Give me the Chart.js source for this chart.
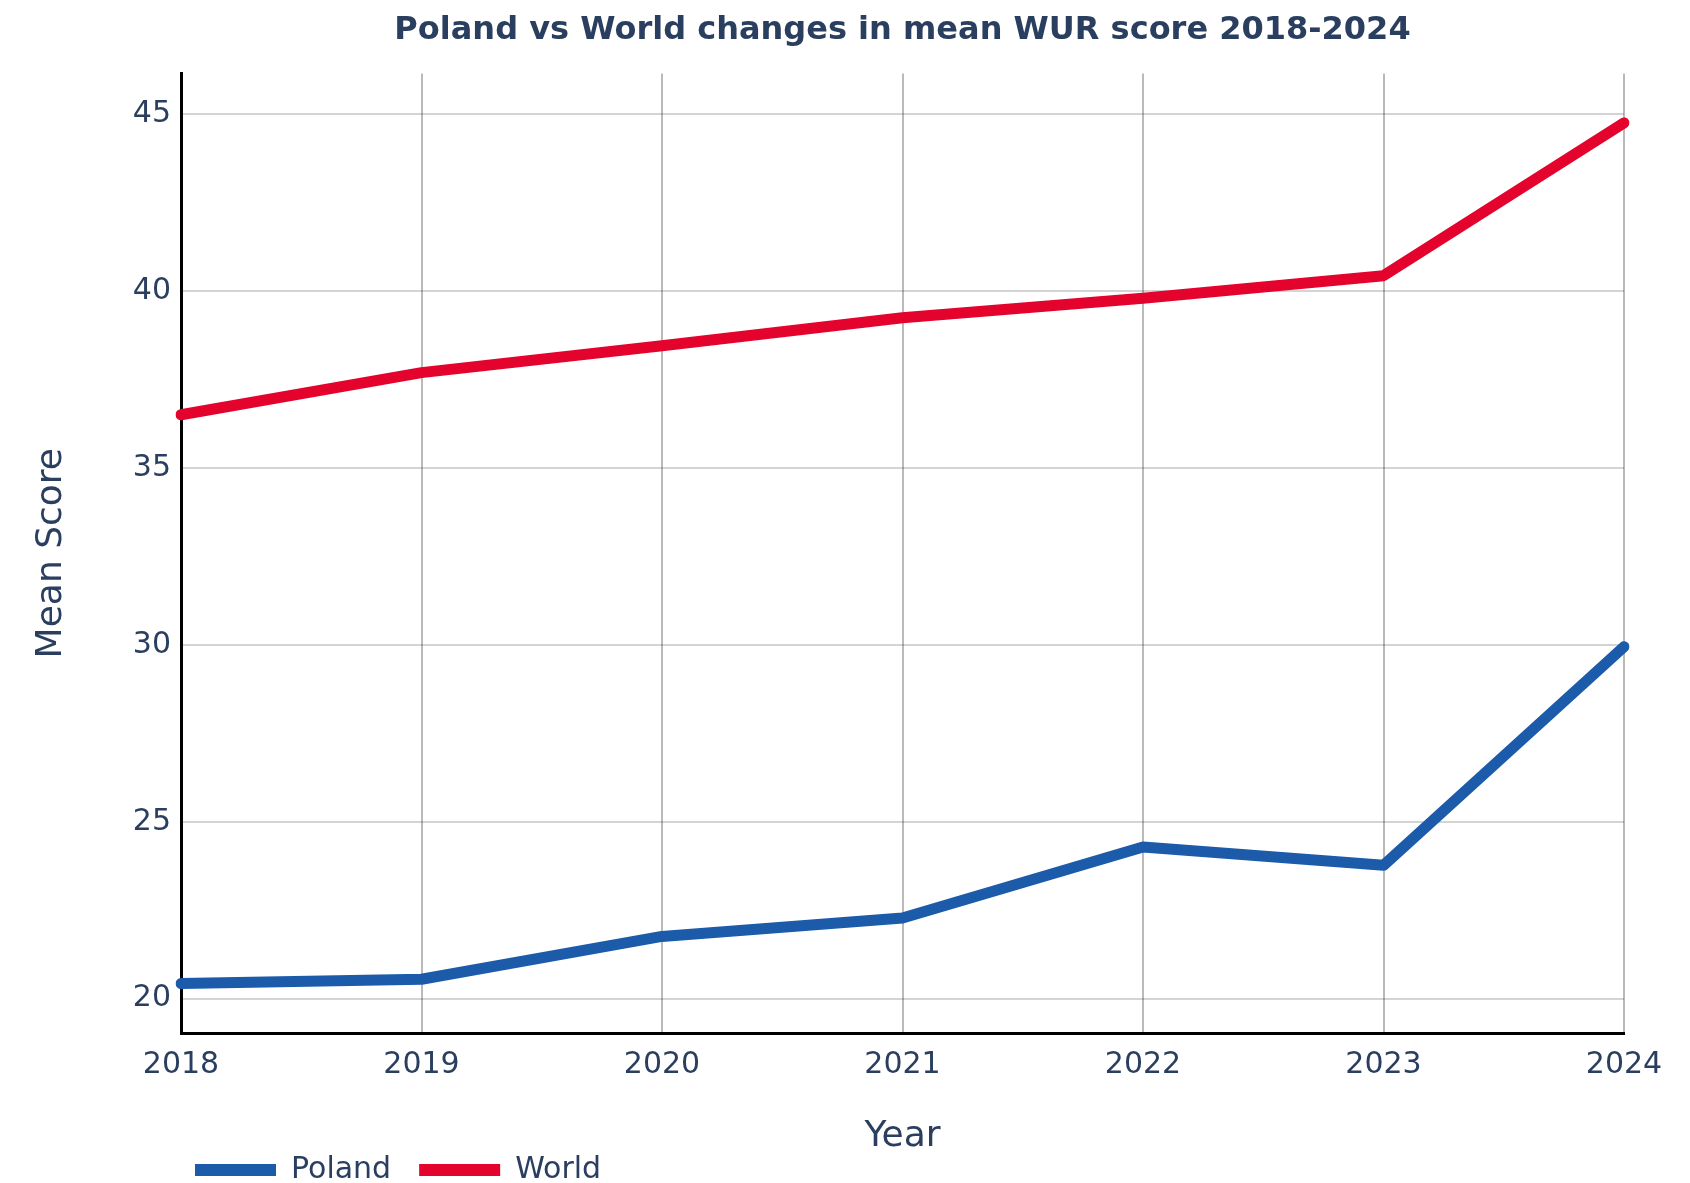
<!DOCTYPE html>
<html>
<head>
<meta charset="utf-8">
<title>Poland vs World WUR</title>
<script src="https://cdn.jsdelivr.net/npm/chart.js@4.4.1/dist/chart.umd.min.js"></script>
<style>
    body { margin: 0; background: #ffffff; }
    canvas { display: block; }
</style>
</head>
<body>
<canvas id="wurChart" width="1690" height="1183"></canvas>
<script>
// data
const years = ['2018', '2019', '2020', '2021', '2022', '2023', '2024'];
const polandScores = [20.43, 20.55, 21.76, 22.28, 24.29, 23.77, 29.95];
const worldScores = [36.51, 37.70, 38.46, 39.25, 39.80, 40.44, 44.76];
const yTicks = [20, 25, 30, 35, 40, 45];

const textColor = '#2a3f5f';
Chart.defaults.font.family = "Verdana, 'DejaVu Sans', sans-serif";
Chart.defaults.color = textColor;

// put the legend and the title where the original has them
const placeBlocks = {
    id: 'placeBlocks',
    afterLayout(chart) {
        const area = chart.chartArea;
        const lg = chart.legend;
        if (lg) {
            lg.left = 167;
            lg.top = 1127;
            lg.bottom = 1183;
        }
        const tb = chart.titleBlock;
        if (tb) {
            tb.left = area.left;
            tb.right = area.right;
        }
    }
};

function loadChart(){
    const ctx = document.getElementById('wurChart');

    const data = {
        labels: years,
        datasets: [{
            label: 'Poland',
            data: polandScores,
            borderColor: '#1b5baa',
            backgroundColor: '#1b5baa',
            borderWidth: 11,
            pointRadius: 0,
            tension: 0,
            borderJoinStyle: 'round',
            borderCapStyle: 'round'
        }, {
            label: 'World',
            data: worldScores,
            borderColor: '#e4032c',
            backgroundColor: '#e4032c',
            borderWidth: 11,
            pointRadius: 0,
            tension: 0,
            borderJoinStyle: 'round',
            borderCapStyle: 'round'
        }]
    };

    const config = {
        type: 'line',
        data: data,
        plugins: [placeBlocks],
        options: {
            responsive: false,
            animation: false,
            devicePixelRatio: 1,
            layout: { padding: { top: 0, right: 66, bottom: 0, left: 0 } },
            plugins: {
                title: {
                    display: true,
                    text: 'Poland vs World changes in mean WUR score 2018-2024',
                    color: textColor,
                    font: { size: 32, weight: 'bold' },
                    padding: { top: 11, bottom: 24 }
                },
                legend: {
                    position: 'bottom',
                    align: 'start',
                    maxHeight: 10,
                    labels: {
                        color: textColor,
                        font: { size: 30 },
                        boxWidth: 81,
                        boxHeight: 12,
                        padding: 28,
                        generateLabels: function(chart){
                            const items = Chart.defaults.plugins.legend.labels.generateLabels(chart);
                            items.forEach(item => {
                                item.lineWidth = 0;
                                item.fillStyle = item.strokeStyle;
                            });
                            return items;
                        }
                    }
                },
                tooltip: { enabled: false }
            },
            scales: {
                x: {
                    type: 'category',
                    offset: false,
                    afterFit: function(scale){ scale.height = 140; },
                    grid: { color: 'rgba(0,0,0,0.27)', lineWidth: 2, drawTicks: false },
                    border: { display: true, color: '#000000', width: 3 },
                    ticks: { font: { size: 30 }, color: textColor, padding: 14, maxRotation: 0, autoSkip: false },
                    title: {
                        display: true,
                        text: 'Year',
                        color: textColor,
                        font: { size: 36 },
                        padding: { top: 0, bottom: 15 }
                    }
                },
                y: {
                    min: 19.03,
                    max: 46.16,
                    afterFit: function(scale){ scale.width = 181; },
                    afterBuildTicks: function(scale){
                        scale.ticks = yTicks.map(v => ({ value: v }));
                    },
                    grid: { color: 'rgba(0,0,0,0.17)', lineWidth: 2, drawTicks: false },
                    border: { display: true, color: '#000000', width: 3 },
                    ticks: { font: { size: 30 }, color: textColor, padding: 10 },
                    title: {
                        display: true,
                        text: 'Mean Score',
                        color: textColor,
                        font: { size: 36 },
                        padding: { top: 30, bottom: 0 }
                    }
                }
            }
        }
    };

    new Chart(ctx, config);
}

document.addEventListener('DOMContentLoaded', function(){
    loadChart();
});
</script>
</body>
</html>
